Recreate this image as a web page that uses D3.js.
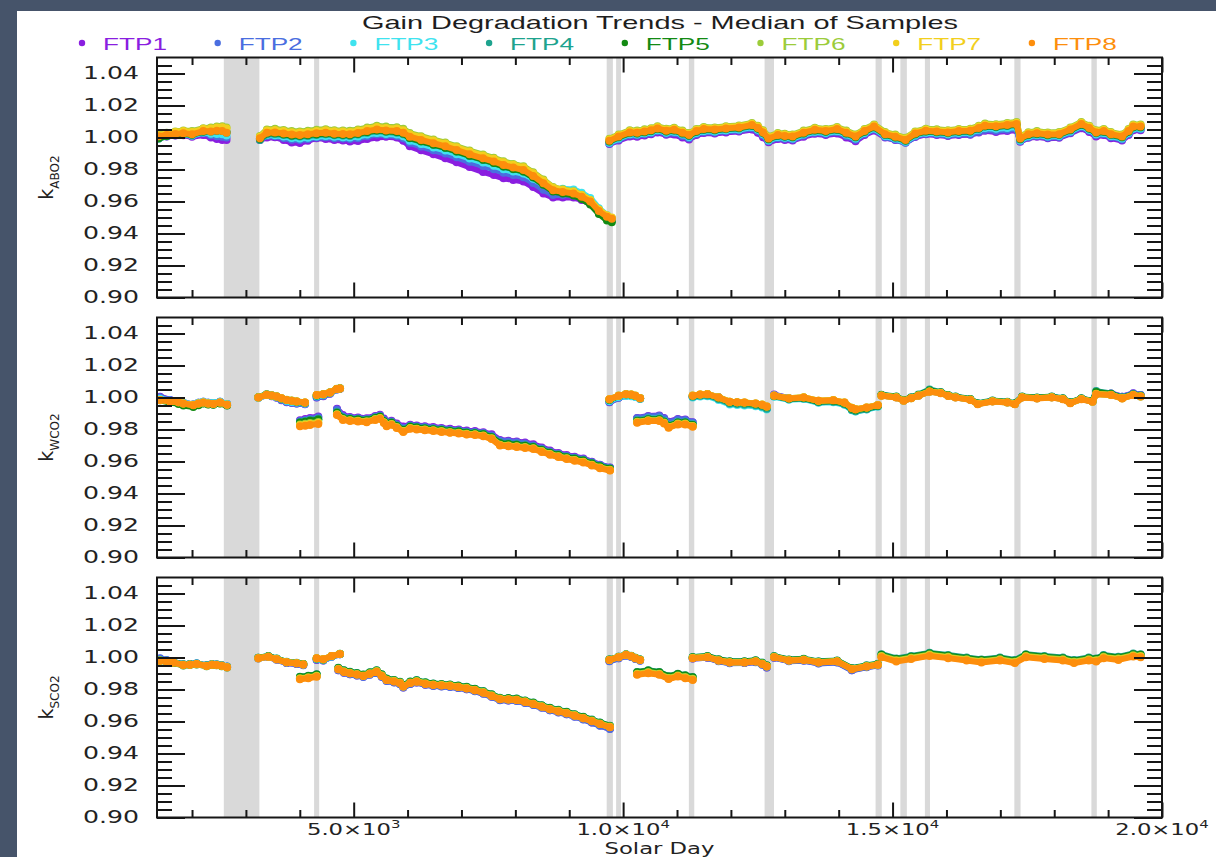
<!DOCTYPE html>
<html>
<head>
<meta charset="utf-8">
<script src="https://cdn.jsdelivr.net/npm/d3@7"></script>
<style>
  html, body { margin: 0; padding: 0; background: #46546a; }
  svg { display: block; }
</style>
</head>
<body>
<svg id="chart" width="1216" height="857"></svg>
<script>
// ---------------------------------------------------------------------------
// Data: median gain factor per footprint (FTP1..FTP8) vs solar day.
// Each panel's arrays are split into segments (one inner array per segment).
// ---------------------------------------------------------------------------
const ftpNames = ['FTP1', 'FTP2', 'FTP3', 'FTP4', 'FTP5', 'FTP6', 'FTP7', 'FTP8'];

// Shaded intervals (solar day start / end)
const gapStart = [2590, 4265, 9695, 9870, 11220, 12625, 14685, 15145, 15600, 17260, 18690];
const gapEnd   = [3250, 4360, 9810, 9960, 11320, 12800, 14800, 15265, 15695, 17375, 18790];

// Axis ticks and labels
const yMajor = [0.90, 0.92, 0.94, 0.96, 0.98, 1.00, 1.02, 1.04];
const yMinor = [0.905, 0.910, 0.915, 0.925, 0.930, 0.935, 0.945, 0.950, 0.955, 0.965, 0.970, 0.975,
                0.985, 0.990, 0.995, 1.005, 1.010, 1.015, 1.025, 1.030, 1.035, 1.045];
const xMajor = [5000, 10000, 15000, 20000];
const xMinor = [2000, 3000, 4000, 6000, 7000, 8000, 9000, 11000, 12000, 13000, 14000,
                16000, 17000, 18000, 19000];
const xLabelMantissa = ['5.0', '1.0', '1.5', '2.0'];
const xLabelExponent = ['3', '4', '4', '4'];
const panelSubscripts = ['ABO2', 'WCO2', 'SCO2'];

// ---- k_ABO2 -------------------------------------------------------------
const abo2Days = [
  [1380,1530,1690,1840,2000,2210,2350,2460,2560,2640],
  [3260,3390,3540,3700,3850,4000,4150,4310,4480,4640,4800,4930,5080,5250,5430,5600,5800,5920,6040,6250,
   6480,6700,6910,7150,7400,7600,7780,7960,8150,8330,8520,8700,8880,9080,9230,9390,9550,9700,9790],
  [9745,9917,10123,10260,10398,10520,10638,10800,10947,11100,11222,11360,11497,11700,11909,12150,12390,12500,12596,12699,
   12871,13000,13146,13350,13558,13760,13970,14140,14313,14480,14657,14862,15050,15241,15420,15618,15820,16028,16230,16442,
   16600,16716,16920,17128,17301,17369,17520,17679,17880,18091,18300,18503,18650,18778,18920,19052,19258,19380,19466,19603]
];
const abo2Ftp1 = [
  [0.9998,1.0006,1.0012,1.0014,1.0005,1.0015,1.0000,0.9990,0.9985,0.9985],
  [0.9985,1.0000,1.0002,0.9985,0.9968,0.9966,0.9980,0.9996,0.9990,0.9984,0.9982,0.9975,0.9978,0.9990,1.0000,1.0004,1.0000,0.9980,0.9945,0.9920,
   0.9895,0.9870,0.9845,0.9815,0.9785,0.9765,0.9745,0.9735,0.9725,0.9690,0.9650,0.9625,0.9625,0.9625,0.9610,0.9585,0.9530,0.9500,0.9488],
  [0.9959,0.9981,1.0007,1.0005,1.0013,1.0020,1.0032,1.0017,1.0018,1.0000,0.9988,1.0015,1.0028,1.0025,1.0032,1.0037,1.0050,1.0030,1.0002,0.9970,
   0.9990,0.9985,0.9981,1.0005,1.0023,1.0015,1.0025,1.0000,0.9976,1.0015,1.0044,1.0000,0.9985,0.9968,1.0003,1.0020,1.0015,1.0010,1.0016,1.0017,
   1.0032,1.0042,1.0034,1.0040,1.0046,0.9974,0.9998,1.0004,0.9995,0.9998,1.0026,1.0058,1.0035,1.0007,1.0015,0.9996,0.9981,1.0015,1.0046,1.0046]
];
const abo2Ftp2 = [
  [0.9998,1.0008,1.0014,1.0018,1.0010,1.0028,1.0014,1.0008,1.0005,1.0000],
  [0.9988,1.0010,1.0008,0.9997,0.9986,0.9984,0.9990,1.0000,1.0002,0.9996,0.9994,0.9990,0.9996,1.0008,1.0018,1.0014,1.0010,0.9996,0.9967,0.9944,
   0.9920,0.9900,0.9876,0.9848,0.9822,0.9802,0.9780,0.9765,0.9752,0.9716,0.9674,0.9640,0.9640,0.9638,0.9620,0.9592,0.9534,0.9500,0.9488],
  [0.9962,0.9988,1.0014,1.0012,1.0020,1.0027,1.0039,1.0024,1.0028,1.0010,0.9995,1.0022,1.0035,1.0032,1.0039,1.0044,1.0058,1.0040,1.0012,0.9976,
   0.9997,0.9992,0.9988,1.0012,1.0030,1.0022,1.0033,1.0010,0.9986,1.0022,1.0051,1.0003,0.9987,0.9967,1.0007,1.0024,1.0020,1.0012,1.0020,1.0020,
   1.0036,1.0048,1.0042,1.0048,1.0054,0.9976,1.0002,1.0009,1.0000,1.0003,1.0032,1.0066,1.0042,1.0014,1.0022,1.0003,0.9988,1.0022,1.0051,1.0051]
];
const abo2Ftp3 = [
  [1.0000,1.0010,1.0016,1.0020,1.0012,1.0032,1.0024,1.0022,1.0020,1.0012],
  [0.9990,1.0015,1.0014,1.0006,0.9997,0.9994,0.9998,1.0006,1.0010,1.0004,1.0002,1.0000,1.0006,1.0018,1.0028,1.0022,1.0018,1.0008,0.9980,0.9960,
   0.9938,0.9919,0.9896,0.9869,0.9844,0.9824,0.9802,0.9787,0.9775,0.9742,0.9705,0.9672,0.9680,0.9675,0.9655,0.9622,0.9558,0.9515,0.9496],
  [0.9967,0.9994,1.0020,1.0018,1.0026,1.0033,1.0045,1.0030,1.0036,1.0018,1.0003,1.0028,1.0041,1.0038,1.0045,1.0050,1.0066,1.0048,1.0020,0.9982,
   1.0003,0.9998,0.9994,1.0018,1.0036,1.0028,1.0041,1.0018,0.9994,1.0028,1.0057,1.0009,0.9993,0.9973,1.0013,1.0030,1.0026,1.0020,1.0028,1.0030,
   1.0048,1.0060,1.0054,1.0060,1.0066,0.9982,1.0008,1.0015,1.0006,1.0009,1.0038,1.0072,1.0048,1.0020,1.0028,1.0009,0.9994,1.0028,1.0057,1.0057]
];
const abo2Ftp4 = [
  [0.9992,1.0008,1.0018,1.0022,1.0016,1.0036,1.0036,1.0040,1.0040,1.0030],
  [0.9985,1.0020,1.0022,1.0015,1.0008,1.0006,1.0010,1.0016,1.0020,1.0014,1.0012,1.0010,1.0018,1.0030,1.0040,1.0034,1.0030,1.0020,0.9995,0.9975,
   0.9954,0.9935,0.9912,0.9885,0.9860,0.9840,0.9818,0.9802,0.9787,0.9750,0.9705,0.9665,0.9660,0.9652,0.9630,0.9598,0.9535,0.9495,0.9480],
  [0.9973,1.0000,1.0026,1.0024,1.0032,1.0039,1.0051,1.0036,1.0042,1.0024,1.0009,1.0034,1.0047,1.0044,1.0051,1.0056,1.0072,1.0054,1.0026,0.9988,
   1.0009,1.0004,1.0000,1.0024,1.0042,1.0034,1.0047,1.0024,1.0000,1.0034,1.0063,1.0015,0.9999,0.9979,1.0019,1.0036,1.0032,1.0026,1.0034,1.0036,
   1.0054,1.0068,1.0064,1.0072,1.0078,0.9988,1.0014,1.0021,1.0012,1.0015,1.0044,1.0078,1.0054,1.0026,1.0034,1.0015,1.0000,1.0034,1.0063,1.0063]
];
const abo2Ftp5 = [
  [0.9995,1.0010,1.0018,1.0024,1.0018,1.0038,1.0040,1.0044,1.0044,1.0034],
  [0.9992,1.0026,1.0028,1.0020,1.0013,1.0011,1.0015,1.0021,1.0025,1.0019,1.0017,1.0015,1.0023,1.0035,1.0045,1.0039,1.0035,1.0025,0.9997,0.9976,
   0.9955,0.9936,0.9913,0.9886,0.9861,0.9841,0.9819,0.9803,0.9788,0.9751,0.9705,0.9662,0.9650,0.9638,0.9615,0.9582,0.9522,0.9482,0.9470],
  [0.9976,1.0003,1.0029,1.0027,1.0035,1.0042,1.0054,1.0039,1.0045,1.0027,1.0012,1.0037,1.0050,1.0047,1.0054,1.0059,1.0075,1.0057,1.0029,0.9991,
   1.0012,1.0007,1.0003,1.0027,1.0045,1.0037,1.0050,1.0027,1.0003,1.0037,1.0066,1.0018,1.0002,0.9982,1.0022,1.0039,1.0035,1.0029,1.0037,1.0039,
   1.0057,1.0071,1.0067,1.0075,1.0081,0.9991,1.0017,1.0024,1.0015,1.0018,1.0047,1.0081,1.0057,1.0029,1.0037,1.0018,1.0003,1.0037,1.0066,1.0066]
];
const abo2Ftp6 = [
  [1.0018,1.0030,1.0038,1.0044,1.0040,1.0058,1.0062,1.0068,1.0070,1.0062],
  [1.0010,1.0050,1.0054,1.0047,1.0040,1.0038,1.0042,1.0048,1.0052,1.0046,1.0044,1.0042,1.0050,1.0062,1.0074,1.0068,1.0064,1.0054,1.0028,1.0008,
   0.9987,0.9968,0.9945,0.9918,0.9893,0.9873,0.9851,0.9835,0.9820,0.9783,0.9737,0.9690,0.9676,0.9664,0.9642,0.9610,0.9550,0.9510,0.9495],
  [0.9992,1.0019,1.0045,1.0043,1.0051,1.0058,1.0070,1.0055,1.0061,1.0043,1.0028,1.0053,1.0066,1.0063,1.0070,1.0075,1.0091,1.0073,1.0045,1.0007,
   1.0028,1.0023,1.0019,1.0043,1.0061,1.0053,1.0066,1.0043,1.0019,1.0053,1.0082,1.0034,1.0018,0.9998,1.0038,1.0055,1.0051,1.0045,1.0053,1.0055,
   1.0073,1.0087,1.0083,1.0091,1.0097,1.0007,1.0033,1.0040,1.0031,1.0034,1.0063,1.0097,1.0073,1.0045,1.0053,1.0034,1.0019,1.0053,1.0082,1.0082]
];
const abo2Ftp7 = [
  [1.0014,1.0026,1.0034,1.0040,1.0034,1.0054,1.0056,1.0062,1.0064,1.0056],
  [1.0005,1.0044,1.0047,1.0040,1.0033,1.0031,1.0035,1.0041,1.0045,1.0039,1.0037,1.0035,1.0043,1.0055,1.0066,1.0060,1.0056,1.0046,1.0021,1.0002,
   0.9981,0.9962,0.9939,0.9912,0.9887,0.9867,0.9845,0.9829,0.9814,0.9777,0.9731,0.9686,0.9674,0.9662,0.9641,0.9610,0.9550,0.9514,0.9500],
  [0.9987,1.0014,1.0040,1.0038,1.0046,1.0053,1.0065,1.0050,1.0056,1.0038,1.0023,1.0048,1.0061,1.0058,1.0065,1.0070,1.0086,1.0068,1.0040,1.0002,
   1.0023,1.0018,1.0014,1.0038,1.0056,1.0048,1.0061,1.0038,1.0014,1.0048,1.0077,1.0029,1.0013,0.9993,1.0033,1.0050,1.0046,1.0040,1.0048,1.0050,
   1.0068,1.0082,1.0078,1.0086,1.0092,1.0002,1.0028,1.0035,1.0026,1.0029,1.0058,1.0092,1.0068,1.0040,1.0048,1.0029,1.0014,1.0048,1.0077,1.0077]
];
const abo2Ftp8 = [
  [1.0008,1.0016,1.0022,1.0026,1.0020,1.0040,1.0038,1.0042,1.0040,1.0030],
  [0.9995,1.0030,1.0032,1.0025,1.0018,1.0016,1.0020,1.0026,1.0030,1.0024,1.0022,1.0020,1.0028,1.0040,1.0050,1.0044,1.0040,1.0030,1.0005,0.9985,
   0.9964,0.9945,0.9922,0.9895,0.9870,0.9850,0.9828,0.9812,0.9797,0.9760,0.9714,0.9670,0.9660,0.9650,0.9630,0.9600,0.9540,0.9505,0.9492],
  [0.9979,1.0006,1.0032,1.0030,1.0038,1.0045,1.0057,1.0042,1.0048,1.0030,1.0015,1.0040,1.0053,1.0050,1.0057,1.0062,1.0078,1.0060,1.0032,0.9994,
   1.0015,1.0010,1.0006,1.0030,1.0048,1.0040,1.0053,1.0030,1.0006,1.0040,1.0069,1.0021,1.0005,0.9985,1.0025,1.0042,1.0038,1.0032,1.0040,1.0042,
   1.0060,1.0074,1.0070,1.0078,1.0084,0.9994,1.0020,1.0027,1.0018,1.0021,1.0050,1.0084,1.0060,1.0032,1.0040,1.0021,1.0006,1.0040,1.0069,1.0069]
];

// ---- k_WCO2 -------------------------------------------------------------
const wco2Days = [
  [1406,1591,1750,1839,2024,2120,2210,2300,2395,2519,2650],
  [3230,3386,3480,3571,3660,3757,3850,3942,4096],
  [4004,4100,4189,4343],
  [4313,4436,4560,4684,4746],
  [4690,4800,4931,5080,5241,5400,5488,5560,5612,5700,5798,5920,6050,6169,6320,6477,6630,6787,6950,7097,
   7250,7405,7560,7715,7870,8025,8180,8333,8490,8643,8800,8952,9100,9261,9420,9570,9756],
  [9745,9917,10054,10150,10226,10315],
  [10260,10466,10672,10760,10844,11016,11153,11291],
  [11291,11430,11565,11771,11978,12115,12252,12459,12580,12665],
  [12802,13077,13352,13626,13901,14107,14245,14313,14519,14726],
  [14794,15069,15206,15344,15481,15687,15893,16031,16168,16443,16580,16855,17130,17268,17405,17680,17954,18161,18298,18504,
   18710,18779,19054,19260,19466,19603]
];
const wco2Ftp1 = [
  [1.0005,0.9985,0.9976,0.9967,0.9957,0.9967,0.9973,0.9967,0.9965,0.9973,0.9960],
  [0.9998,1.0015,1.0008,0.9998,0.9983,0.9970,0.9965,0.9962,0.9958],
  [0.9858,0.9865,0.9872,0.9882],
  [1.0000,1.0008,1.0024,1.0050,1.0055],
  [0.9930,0.9890,0.9878,0.9875,0.9871,0.9885,0.9892,0.9868,0.9850,0.9855,0.9838,0.9818,0.9830,0.9825,0.9820,0.9815,0.9810,0.9804,0.9800,0.9793,
   0.9790,0.9783,0.9770,0.9735,0.9730,0.9725,0.9718,0.9708,0.9688,0.9668,0.9653,0.9640,0.9630,0.9619,0.9598,0.9580,0.9563],
  [0.9970,0.9998,1.0012,1.0012,1.0006,0.9992],
  [0.9872,0.9884,0.9888,0.9872,0.9848,0.9866,0.9862,0.9845],
  [1.0003,1.0012,1.0020,1.0002,0.9970,0.9965,0.9963,0.9955,0.9945,0.9933],
  [1.0018,0.9996,0.9998,0.9972,0.9978,0.9962,0.9930,0.9922,0.9935,0.9952],
  [1.0014,1.0003,0.9982,0.9998,1.0014,1.0039,1.0030,1.0013,1.0003,0.9988,0.9961,0.9978,0.9971,0.9961,1.0003,0.9997,1.0003,0.9992,0.9967,0.9992,
   0.9976,1.0028,1.0025,1.0005,1.0026,1.0016]
];
const wco2Ftp2 = [
  [1.0002,0.9984,0.9975,0.9967,0.9957,0.9967,0.9973,0.9967,0.9965,0.9973,0.9960],
  [0.9998,1.0015,1.0009,1.0000,0.9985,0.9972,0.9967,0.9963,0.9959],
  [0.9853,0.9860,0.9866,0.9876],
  [1.0002,1.0010,1.0025,1.0050,1.0055],
  [0.9925,0.9883,0.9873,0.9870,0.9866,0.9880,0.9887,0.9862,0.9843,0.9850,0.9832,0.9810,0.9825,0.9820,0.9815,0.9810,0.9805,0.9799,0.9795,0.9788,
   0.9785,0.9778,0.9763,0.9730,0.9725,0.9720,0.9713,0.9700,0.9681,0.9662,0.9648,0.9635,0.9625,0.9614,0.9595,0.9578,0.9561],
  [0.9972,0.9999,1.0013,1.0013,1.0007,0.9993],
  [0.9870,0.9881,0.9884,0.9868,0.9843,0.9862,0.9860,0.9843],
  [1.0004,1.0013,1.0020,1.0001,0.9969,0.9964,0.9962,0.9954,0.9944,0.9932],
  [1.0016,0.9995,0.9997,0.9972,0.9977,0.9960,0.9928,0.9920,0.9933,0.9950],
  [1.0013,1.0002,0.9981,0.9997,1.0013,1.0038,1.0029,1.0012,1.0002,0.9987,0.9960,0.9977,0.9970,0.9960,1.0002,0.9996,1.0002,0.9991,0.9966,0.9991,
   0.9975,1.0026,1.0024,1.0004,1.0025,1.0015]
];
const wco2Ftp3 = [
  [0.9992,0.9980,0.9975,0.9967,0.9957,0.9967,0.9973,0.9967,0.9965,0.9973,0.9960],
  [0.9997,1.0015,1.0010,1.0002,0.9990,0.9978,0.9972,0.9968,0.9962],
  [0.9842,0.9848,0.9853,0.9862],
  [1.0008,1.0015,1.0028,1.0051,1.0056],
  [0.9905,0.9870,0.9863,0.9860,0.9856,0.9870,0.9877,0.9850,0.9831,0.9840,0.9820,0.9795,0.9815,0.9810,0.9805,0.9800,0.9795,0.9789,0.9785,0.9778,
   0.9775,0.9768,0.9750,0.9712,0.9707,0.9702,0.9697,0.9689,0.9670,0.9652,0.9638,0.9625,0.9615,0.9604,0.9585,0.9568,0.9552],
  [0.9978,1.0003,1.0010,1.0008,1.0003,0.9990],
  [0.9857,0.9868,0.9869,0.9853,0.9827,0.9847,0.9846,0.9831],
  [1.0000,1.0006,1.0008,0.9985,0.9957,0.9953,0.9950,0.9945,0.9937,0.9925],
  [1.0005,0.9986,0.9990,0.9967,0.9970,0.9955,0.9920,0.9912,0.9925,0.9942],
  [1.0012,1.0001,0.9980,0.9996,1.0012,1.0037,1.0028,1.0011,1.0001,0.9986,0.9959,0.9976,0.9969,0.9959,1.0001,0.9995,1.0001,0.9990,0.9965,0.9990,
   0.9974,1.0022,1.0016,0.9995,1.0016,1.0007]
];
const wco2Ftp4 = [
  [0.9985,0.9970,0.9964,0.9956,0.9946,0.9958,0.9964,0.9958,0.9956,0.9964,0.9951],
  [1.0002,1.0020,1.0014,1.0006,0.9994,0.9983,0.9978,0.9973,0.9966],
  [0.9846,0.9852,0.9858,0.9866],
  [1.0012,1.0019,1.0031,1.0053,1.0058],
  [0.9910,0.9875,0.9868,0.9865,0.9861,0.9875,0.9882,0.9855,0.9836,0.9845,0.9825,0.9800,0.9820,0.9815,0.9810,0.9805,0.9800,0.9794,0.9790,0.9783,
   0.9780,0.9773,0.9755,0.9718,0.9713,0.9708,0.9702,0.9694,0.9675,0.9657,0.9643,0.9630,0.9620,0.9609,0.9590,0.9573,0.9557],
  [0.9985,1.0009,1.0019,1.0016,1.0009,0.9994],
  [0.9858,0.9869,0.9869,0.9853,0.9827,0.9847,0.9847,0.9832],
  [1.0005,1.0011,1.0013,0.9991,0.9962,0.9959,0.9957,0.9951,0.9943,0.9930],
  [1.0008,0.9989,0.9993,0.9970,0.9974,0.9958,0.9922,0.9914,0.9927,0.9945],
  [1.0017,1.0006,0.9985,1.0001,1.0019,1.0050,1.0034,1.0016,1.0006,0.9991,0.9964,0.9981,0.9974,0.9964,1.0006,1.0000,1.0006,0.9995,0.9970,0.9995,
   0.9979,1.0040,1.0025,1.0000,1.0021,1.0012]
];
const wco2Ftp5 = [
  [0.9983,0.9968,0.9960,0.9950,0.9940,0.9952,0.9962,0.9956,0.9955,0.9963,0.9950],
  [1.0002,1.0019,1.0013,1.0006,0.9994,0.9984,0.9979,0.9974,0.9967],
  [0.9843,0.9849,0.9854,0.9862],
  [1.0013,1.0020,1.0031,1.0053,1.0057],
  [0.9905,0.9872,0.9865,0.9862,0.9858,0.9872,0.9879,0.9852,0.9833,0.9842,0.9822,0.9797,0.9817,0.9812,0.9807,0.9802,0.9797,0.9791,0.9787,0.9780,
   0.9777,0.9770,0.9752,0.9714,0.9709,0.9704,0.9699,0.9690,0.9672,0.9654,0.9640,0.9627,0.9617,0.9606,0.9587,0.9570,0.9555],
  [0.9986,1.0010,1.0020,1.0017,1.0010,0.9995],
  [0.9853,0.9864,0.9864,0.9849,0.9822,0.9843,0.9843,0.9828],
  [1.0010,1.0017,1.0020,0.9999,0.9971,0.9968,0.9966,0.9960,0.9952,0.9940],
  [1.0010,0.9992,0.9997,0.9975,0.9979,0.9964,0.9930,0.9922,0.9933,0.9948],
  [1.0015,1.0004,0.9983,0.9999,1.0016,1.0044,1.0031,1.0014,1.0004,0.9989,0.9962,0.9979,0.9972,0.9962,1.0004,0.9998,1.0004,0.9993,0.9968,0.9993,
   0.9977,1.0034,1.0022,0.9998,1.0019,1.0010]
];
const wco2Ftp6 = [
  [0.9985,0.9975,0.9970,0.9962,0.9954,0.9963,0.9969,0.9963,0.9961,0.9969,0.9956],
  [1.0001,1.0018,1.0013,1.0007,0.9996,0.9986,0.9981,0.9976,0.9969],
  [0.9832,0.9836,0.9840,0.9847],
  [1.0015,1.0022,1.0033,1.0054,1.0058],
  [0.9896,0.9865,0.9858,0.9855,0.9851,0.9865,0.9872,0.9845,0.9826,0.9835,0.9815,0.9790,0.9810,0.9805,0.9800,0.9795,0.9790,0.9784,0.9780,0.9773,
   0.9770,0.9763,0.9745,0.9705,0.9700,0.9695,0.9690,0.9683,0.9665,0.9647,0.9633,0.9620,0.9610,0.9599,0.9580,0.9563,0.9548],
  [0.9989,1.0012,1.0022,1.0019,1.0012,0.9997],
  [0.9848,0.9858,0.9858,0.9843,0.9816,0.9837,0.9837,0.9822],
  [1.0012,1.0019,1.0022,1.0001,0.9974,0.9971,0.9969,0.9963,0.9956,0.9944],
  [1.0012,0.9995,1.0001,0.9980,0.9984,0.9969,0.9936,0.9927,0.9938,0.9953],
  [1.0013,1.0002,0.9981,0.9997,1.0013,1.0038,1.0029,1.0012,1.0002,0.9987,0.9960,0.9977,0.9970,0.9960,1.0002,0.9996,1.0002,0.9991,0.9966,0.9991,
   0.9975,1.0023,1.0017,0.9996,1.0017,1.0008]
];
const wco2Ftp7 = [
  [0.9985,0.9975,0.9970,0.9962,0.9953,0.9962,0.9968,0.9962,0.9960,0.9968,0.9955],
  [1.0000,1.0017,1.0012,1.0006,0.9995,0.9985,0.9980,0.9975,0.9968],
  [0.9826,0.9830,0.9834,0.9841],
  [1.0015,1.0021,1.0032,1.0053,1.0057],
  [0.9893,0.9863,0.9856,0.9853,0.9849,0.9863,0.9870,0.9843,0.9824,0.9833,0.9813,0.9788,0.9808,0.9803,0.9798,0.9793,0.9788,0.9782,0.9778,0.9771,
   0.9768,0.9761,0.9743,0.9703,0.9698,0.9693,0.9688,0.9681,0.9663,0.9645,0.9631,0.9618,0.9608,0.9597,0.9578,0.9561,0.9546],
  [0.9989,1.0011,1.0021,1.0018,1.0011,0.9996],
  [0.9845,0.9856,0.9856,0.9841,0.9814,0.9835,0.9835,0.9820],
  [1.0012,1.0019,1.0022,1.0001,0.9974,0.9971,0.9969,0.9963,0.9956,0.9944],
  [1.0012,0.9995,1.0001,0.9980,0.9984,0.9969,0.9936,0.9927,0.9938,0.9953],
  [1.0012,1.0001,0.9980,0.9996,1.0012,1.0037,1.0028,1.0011,1.0001,0.9986,0.9959,0.9976,0.9969,0.9959,1.0001,0.9995,1.0001,0.9990,0.9965,0.9990,
   0.9974,1.0022,1.0016,0.9995,1.0016,1.0007]
];
const wco2Ftp8 = [
  [0.9985,0.9975,0.9970,0.9962,0.9952,0.9962,0.9968,0.9962,0.9960,0.9968,0.9955],
  [1.0000,1.0017,1.0012,1.0006,0.9995,0.9985,0.9980,0.9975,0.9968],
  [0.9820,0.9824,0.9828,0.9835],
  [1.0015,1.0021,1.0032,1.0053,1.0057],
  [0.9890,0.9860,0.9853,0.9850,0.9846,0.9860,0.9867,0.9840,0.9821,0.9830,0.9810,0.9785,0.9805,0.9800,0.9795,0.9790,0.9785,0.9779,0.9775,0.9768,
   0.9765,0.9758,0.9740,0.9700,0.9695,0.9690,0.9685,0.9678,0.9660,0.9642,0.9628,0.9615,0.9605,0.9594,0.9575,0.9558,0.9543],
  [0.9989,1.0011,1.0021,1.0018,1.0011,0.9996],
  [0.9842,0.9853,0.9853,0.9838,0.9811,0.9832,0.9832,0.9817],
  [1.0011,1.0018,1.0021,1.0000,0.9973,0.9970,0.9968,0.9962,0.9955,0.9943],
  [1.0011,0.9994,1.0000,0.9979,0.9983,0.9968,0.9935,0.9926,0.9937,0.9952],
  [1.0011,1.0000,0.9979,0.9995,1.0011,1.0036,1.0027,1.0010,1.0000,0.9985,0.9958,0.9975,0.9968,0.9958,1.0000,0.9994,1.0000,0.9989,0.9964,0.9989,
   0.9973,1.0021,1.0015,0.9994,1.0015,1.0006]
];

// ---- k_SCO2 -------------------------------------------------------------
const sco2Days = [
  [1406,1530,1653,1839,1960,2086,2271,2370,2457,2550,2650],
  [3230,3416,3570,3756,3941,4065],
  [4003,4158,4313],
  [4313,4436,4591,4745],
  [4715,4820,4931,5060,5178,5300,5426,5520,5611,5750,5859,5921,6050,6168,6330,6477,6630,6787,6940,7096,
   7250,7405,7560,7714,7870,8024,8180,8333,8490,8642,8800,8951,9100,9261,9420,9570,9755],
  [9745,9917,10054,10150,10226,10315],
  [10260,10466,10672,10844,11016,11153,11291],
  [11291,11565,11771,11978,12252,12459,12580,12665],
  [12802,13077,13352,13626,13970,14245,14519,14726],
  [14794,15069,15344,15687,16031,16374,16649,16993,17268,17474,17817,18161,18367,18641,18779,18916,19191,19466,19603]
];
const sco2Ftp1 = [
  [0.9992,0.9982,0.9972,0.9956,0.9958,0.9962,0.9950,0.9958,0.9956,0.9951,0.9942],
  [0.9995,1.0004,0.9987,0.9966,0.9960,0.9953],
  [0.9872,0.9878,0.9888],
  [0.9985,0.9982,1.0005,1.0020],
  [0.9921,0.9905,0.9896,0.9888,0.9879,0.9893,0.9906,0.9880,0.9854,0.9845,0.9834,0.9813,0.9835,0.9844,0.9830,0.9823,0.9820,0.9817,0.9810,0.9802,
   0.9790,0.9775,0.9755,0.9734,0.9732,0.9729,0.9717,0.9704,0.9687,0.9671,0.9658,0.9646,0.9631,0.9614,0.9594,0.9575,0.9554],
  [0.9978,0.9996,1.0012,1.0004,0.9992,0.9981],
  [0.9898,0.9908,0.9898,0.9871,0.9887,0.9877,0.9866],
  [0.9994,0.9999,0.9978,0.9965,0.9966,0.9972,0.9956,0.9938],
  [0.9999,0.9978,0.9981,0.9964,0.9970,0.9921,0.9940,0.9951],
  [1.0008,0.9981,0.9996,1.0016,1.0002,0.9987,0.9975,0.9987,0.9971,1.0008,0.9996,0.9987,0.9971,0.9987,0.9981,1.0002,0.9991,1.0012,1.0008]
];
const sco2Ftp2 = [
  [0.9995,0.9984,0.9973,0.9957,0.9959,0.9963,0.9951,0.9959,0.9957,0.9952,0.9943],
  [0.9994,1.0003,0.9986,0.9965,0.9959,0.9952],
  [0.9871,0.9877,0.9887],
  [0.9986,0.9982,1.0005,1.0020],
  [0.9920,0.9904,0.9895,0.9887,0.9878,0.9892,0.9905,0.9879,0.9853,0.9844,0.9833,0.9812,0.9834,0.9843,0.9829,0.9822,0.9819,0.9816,0.9809,0.9801,
   0.9789,0.9774,0.9754,0.9733,0.9731,0.9728,0.9716,0.9703,0.9686,0.9670,0.9657,0.9645,0.9630,0.9613,0.9593,0.9574,0.9553],
  [0.9976,0.9995,1.0011,1.0003,0.9991,0.9980],
  [0.9897,0.9907,0.9897,0.9870,0.9886,0.9876,0.9865],
  [0.9993,0.9998,0.9977,0.9964,0.9965,0.9971,0.9955,0.9937],
  [0.9998,0.9977,0.9980,0.9963,0.9969,0.9920,0.9939,0.9950],
  [1.0011,0.9984,0.9999,1.0019,1.0005,0.9990,0.9978,0.9990,0.9974,1.0011,0.9999,0.9990,0.9974,0.9990,0.9984,1.0005,0.9994,1.0015,1.0011]
];
const sco2Ftp3 = [
  [0.9985,0.9979,0.9971,0.9956,0.9958,0.9962,0.9950,0.9958,0.9956,0.9951,0.9942],
  [0.9997,1.0008,0.9991,0.9971,0.9965,0.9958],
  [0.9874,0.9880,0.9890],
  [0.9990,0.9985,1.0006,1.0021],
  [0.9929,0.9913,0.9904,0.9896,0.9887,0.9901,0.9914,0.9888,0.9862,0.9853,0.9842,0.9821,0.9843,0.9852,0.9838,0.9831,0.9828,0.9825,0.9818,0.9810,
   0.9798,0.9783,0.9763,0.9742,0.9740,0.9737,0.9725,0.9712,0.9695,0.9679,0.9666,0.9654,0.9639,0.9623,0.9605,0.9587,0.9567],
  [0.9986,1.0003,1.0018,1.0009,0.9997,0.9986],
  [0.9900,0.9910,0.9900,0.9873,0.9889,0.9879,0.9868],
  [0.9998,1.0004,0.9983,0.9970,0.9970,0.9976,0.9961,0.9945],
  [1.0004,0.9983,0.9987,0.9971,0.9977,0.9929,0.9946,0.9956],
  [1.0014,0.9987,1.0002,1.0022,1.0008,0.9993,0.9981,0.9993,0.9977,1.0014,1.0002,0.9993,0.9977,0.9993,0.9987,1.0008,0.9997,1.0018,1.0014]
];
const sco2Ftp4 = [
  [0.9984,0.9979,0.9972,0.9958,0.9960,0.9963,0.9951,0.9958,0.9956,0.9951,0.9942],
  [0.9999,1.0010,0.9993,0.9973,0.9967,0.9960],
  [0.9880,0.9886,0.9896],
  [0.9993,0.9988,1.0009,1.0023],
  [0.9936,0.9920,0.9911,0.9903,0.9894,0.9908,0.9921,0.9895,0.9869,0.9860,0.9849,0.9828,0.9850,0.9859,0.9845,0.9838,0.9835,0.9832,0.9825,0.9817,
   0.9805,0.9790,0.9770,0.9749,0.9747,0.9744,0.9732,0.9719,0.9702,0.9686,0.9673,0.9661,0.9646,0.9630,0.9612,0.9594,0.9574],
  [0.9988,1.0005,1.0020,1.0011,0.9999,0.9988],
  [0.9910,0.9920,0.9910,0.9883,0.9899,0.9889,0.9878],
  [1.0003,1.0010,0.9989,0.9977,0.9977,0.9983,0.9968,0.9952],
  [1.0009,0.9988,0.9992,0.9976,0.9982,0.9934,0.9951,0.9961],
  [1.0021,0.9994,1.0009,1.0029,1.0015,1.0000,0.9988,1.0000,0.9984,1.0021,1.0009,1.0000,0.9984,1.0000,0.9994,1.0015,1.0004,1.0025,1.0021]
];
const sco2Ftp5 = [
  [0.9980,0.9974,0.9966,0.9950,0.9953,0.9957,0.9945,0.9953,0.9951,0.9946,0.9937],
  [0.9998,1.0008,0.9992,0.9972,0.9966,0.9959],
  [0.9878,0.9884,0.9894],
  [0.9994,0.9988,1.0009,1.0022],
  [0.9934,0.9918,0.9909,0.9901,0.9892,0.9906,0.9919,0.9893,0.9867,0.9858,0.9847,0.9826,0.9848,0.9857,0.9843,0.9836,0.9833,0.9830,0.9823,0.9815,
   0.9803,0.9788,0.9768,0.9747,0.9745,0.9742,0.9730,0.9717,0.9700,0.9684,0.9671,0.9659,0.9644,0.9628,0.9610,0.9592,0.9572],
  [0.9987,1.0004,1.0019,1.0010,0.9998,0.9987],
  [0.9908,0.9918,0.9908,0.9881,0.9897,0.9887,0.9876],
  [1.0001,1.0008,0.9987,0.9975,0.9975,0.9981,0.9966,0.9950],
  [1.0007,0.9986,0.9990,0.9974,0.9980,0.9932,0.9949,0.9959],
  [1.0017,0.9990,1.0005,1.0025,1.0011,0.9996,0.9984,0.9996,0.9980,1.0017,1.0005,0.9996,0.9980,0.9996,0.9990,1.0011,1.0000,1.0021,1.0017]
];
const sco2Ftp6 = [
  [0.9981,0.9976,0.9969,0.9954,0.9956,0.9960,0.9948,0.9956,0.9954,0.9949,0.9940],
  [0.9996,1.0006,0.9990,0.9971,0.9965,0.9958],
  [0.9870,0.9876,0.9886],
  [0.9995,0.9989,1.0010,1.0023],
  [0.9930,0.9914,0.9905,0.9897,0.9888,0.9902,0.9915,0.9889,0.9863,0.9854,0.9843,0.9822,0.9844,0.9853,0.9839,0.9832,0.9829,0.9826,0.9819,0.9811,
   0.9799,0.9784,0.9764,0.9743,0.9741,0.9738,0.9726,0.9713,0.9696,0.9680,0.9667,0.9655,0.9640,0.9624,0.9606,0.9588,0.9568],
  [0.9986,1.0003,1.0018,1.0009,0.9997,0.9986],
  [0.9899,0.9909,0.9899,0.9872,0.9888,0.9878,0.9867],
  [0.9998,1.0004,0.9983,0.9971,0.9971,0.9977,0.9962,0.9946],
  [1.0004,0.9983,0.9987,0.9971,0.9977,0.9929,0.9946,0.9956],
  [1.0010,0.9983,0.9998,1.0018,1.0004,0.9989,0.9977,0.9989,0.9973,1.0010,0.9998,0.9989,0.9973,0.9989,0.9983,1.0004,0.9993,1.0014,1.0010]
];
const sco2Ftp7 = [
  [0.9980,0.9975,0.9968,0.9953,0.9955,0.9959,0.9947,0.9955,0.9953,0.9948,0.9939],
  [0.9995,1.0005,0.9989,0.9970,0.9964,0.9957],
  [0.9867,0.9873,0.9883],
  [0.9995,0.9989,1.0009,1.0022],
  [0.9927,0.9911,0.9902,0.9894,0.9885,0.9899,0.9912,0.9886,0.9860,0.9851,0.9840,0.9819,0.9841,0.9850,0.9836,0.9829,0.9826,0.9823,0.9816,0.9808,
   0.9796,0.9781,0.9761,0.9740,0.9738,0.9735,0.9723,0.9710,0.9693,0.9677,0.9664,0.9652,0.9637,0.9621,0.9603,0.9585,0.9565],
  [0.9985,1.0002,1.0017,1.0008,0.9996,0.9985],
  [0.9895,0.9905,0.9895,0.9868,0.9884,0.9874,0.9863],
  [0.9997,1.0003,0.9982,0.9970,0.9970,0.9976,0.9961,0.9945],
  [1.0003,0.9982,0.9986,0.9970,0.9976,0.9928,0.9945,0.9955],
  [1.0006,0.9979,0.9994,1.0014,1.0000,0.9985,0.9973,0.9985,0.9969,1.0006,0.9994,0.9985,0.9969,0.9985,0.9979,1.0000,0.9989,1.0010,1.0006]
];
const sco2Ftp8 = [
  [0.9980,0.9975,0.9968,0.9953,0.9955,0.9959,0.9947,0.9955,0.9953,0.9948,0.9939],
  [0.9995,1.0005,0.9989,0.9970,0.9964,0.9957],
  [0.9864,0.9870,0.9880],
  [0.9995,0.9989,1.0009,1.0022],
  [0.9926,0.9910,0.9901,0.9893,0.9884,0.9898,0.9911,0.9885,0.9859,0.9850,0.9839,0.9818,0.9840,0.9849,0.9835,0.9828,0.9825,0.9822,0.9815,0.9807,
   0.9795,0.9780,0.9760,0.9739,0.9737,0.9734,0.9722,0.9709,0.9692,0.9676,0.9663,0.9651,0.9636,0.9620,0.9602,0.9584,0.9564],
  [0.9985,1.0002,1.0017,1.0008,0.9996,0.9985],
  [0.9892,0.9902,0.9892,0.9865,0.9881,0.9871,0.9860],
  [0.9996,1.0002,0.9981,0.9969,0.9969,0.9975,0.9960,0.9944],
  [1.0002,0.9981,0.9985,0.9969,0.9975,0.9927,0.9944,0.9954],
  [1.0002,0.9975,0.9990,1.0010,0.9996,0.9981,0.9969,0.9981,0.9965,1.0002,0.9990,0.9981,0.9965,0.9981,0.9975,0.9996,0.9985,1.0006,1.0002]
];

// ---------------------------------------------------------------------------
// Layout and styling
// ---------------------------------------------------------------------------
const FTP_COLORS = ['#8a1ee0', '#4a6ee0', '#3fe3ef', '#1ea38e', '#138a13', '#9ccc3a', '#f2cf1d', '#fd8e0c'];
const PLOT_L = 157, PLOT_R = 1162;
const PANEL_TOPS = [57.5, 317.5, 577.5];
const PANEL_H = 240;
const X_DOMAIN = [1350, 20000];
const Y_DOMAIN = [0.90, 1.05];
const INK = '#161616';
const LABEL_FONT = 'DejaVu Sans';
const TITLE_FONT = 'Liberation Sans';
const TRACE_WIDTH = 6;
const DOT_RADIUS = 4;

const panels = [
  { sub: panelSubscripts[0], days: abo2Days,
    series: [abo2Ftp1, abo2Ftp2, abo2Ftp3, abo2Ftp4, abo2Ftp5, abo2Ftp6, abo2Ftp7, abo2Ftp8] },
  { sub: panelSubscripts[1], days: wco2Days,
    series: [wco2Ftp1, wco2Ftp2, wco2Ftp3, wco2Ftp4, wco2Ftp5, wco2Ftp6, wco2Ftp7, wco2Ftp8] },
  { sub: panelSubscripts[2], days: sco2Days,
    series: [sco2Ftp1, sco2Ftp2, sco2Ftp3, sco2Ftp4, sco2Ftp5, sco2Ftp6, sco2Ftp7, sco2Ftp8] }
];

const svg = d3.select('#chart');

// white sheet on the slate backdrop
svg.append('rect').attr('x', 17).attr('y', 11).attr('width', 1216 - 17).attr('height', 857 - 11)
  .attr('fill', '#ffffff');

// title
svg.append('text')
  .attr('x', 660).attr('y', 29)
  .attr('text-anchor', 'middle')
  .attr('font-family', TITLE_FONT).attr('font-size', 19).attr('fill', '#1e1e1e')
  .attr('textLength', 596).attr('lengthAdjust', 'spacingAndGlyphs')
  .text('Gain Degradation Trends - Median of Samples');

// legend
const legend = svg.append('g');
ftpNames.forEach((name, i) => {
  const lx = 82 + i * 135.7;
  legend.append('circle').attr('cx', lx).attr('cy', 43).attr('r', 3.2).attr('fill', FTP_COLORS[i]);
  legend.append('text')
    .attr('x', lx + 21).attr('y', 49.5)
    .attr('font-family', TITLE_FONT).attr('font-size', 17).attr('fill', FTP_COLORS[i])
    .attr('textLength', 64).attr('lengthAdjust', 'spacingAndGlyphs')
    .text(name);
});

const x = d3.scaleLinear().domain(X_DOMAIN).range([PLOT_L, PLOT_R]);

const styleTicks = g => {
  g.select('.domain').remove();
  g.selectAll('.tick line').attr('stroke', INK).attr('stroke-width', 2);
};

panels.forEach((p, pi) => {
  const top = PANEL_TOPS[pi];
  const bottom = top + PANEL_H;
  const y = d3.scaleLinear().domain(Y_DOMAIN).range([bottom, top]);

  const clipId = 'plot-clip-' + pi;
  svg.append('clipPath').attr('id', clipId)
    .append('rect').attr('x', PLOT_L).attr('y', top)
    .attr('width', PLOT_R - PLOT_L).attr('height', PANEL_H);

  const plot = svg.append('g').attr('clip-path', `url(#${clipId})`);

  // shaded intervals
  plot.selectAll('rect.gap')
    .data(d3.zip(gapStart, gapEnd))
    .join('rect')
    .attr('class', 'gap')
    .attr('x', d => x(d[0]))
    .attr('width', d => x(d[1]) - x(d[0]))
    .attr('y', top).attr('height', PANEL_H)
    .attr('fill', '#d9d9d9');

  // footprint traces (line + sample dots), FTP1 first so FTP8 ends up on top
  const line = d3.line().x(d => x(d[0])).y(d => y(d[1]));
  p.series.forEach((ser, si) => {
    const layer = plot.append('g');
    p.days.forEach((segDays, k) => {
      const pts = d3.zip(segDays, ser[k]);
      layer.append('path')
        .datum(pts)
        .attr('d', line)
        .attr('fill', 'none')
        .attr('stroke', FTP_COLORS[si])
        .attr('stroke-width', TRACE_WIDTH)
        .attr('stroke-linecap', 'round')
        .attr('stroke-linejoin', 'round');
      layer.selectAll(null)
        .data(pts)
        .join('circle')
        .attr('cx', d => x(d[0]))
        .attr('cy', d => y(d[1]))
        .attr('r', DOT_RADIUS)
        .attr('fill', FTP_COLORS[si]);
    });
  });

  // left axis with labels
  svg.append('g').attr('transform', `translate(${PLOT_L},0)`)
    .call(d3.axisLeft(y).tickValues(yMajor).tickSize(-28).tickPadding(18).tickFormat(d3.format('.2f')))
    .call(styleTicks)
    .call(g => g.selectAll('.tick text')
      .attr('font-family', LABEL_FONT).attr('font-size', 17).attr('fill', '#222')
      .attr('textLength', 56).attr('lengthAdjust', 'spacingAndGlyphs'));
  svg.append('g').attr('transform', `translate(${PLOT_L},0)`)
    .call(d3.axisLeft(y).tickValues(yMinor).tickSize(-15).tickFormat(''))
    .call(styleTicks);

  // right axis (ticks only)
  svg.append('g').attr('transform', `translate(${PLOT_R},0)`)
    .call(d3.axisRight(y).tickValues(yMajor).tickSize(-28).tickFormat(''))
    .call(styleTicks);
  svg.append('g').attr('transform', `translate(${PLOT_R},0)`)
    .call(d3.axisRight(y).tickValues(yMinor).tickSize(-15).tickFormat(''))
    .call(styleTicks);

  // top and bottom axes (ticks only)
  svg.append('g').attr('transform', `translate(0,${top})`)
    .call(d3.axisTop(x).tickValues(xMajor).tickSize(-15).tickFormat(''))
    .call(styleTicks);
  svg.append('g').attr('transform', `translate(0,${top})`)
    .call(d3.axisTop(x).tickValues(xMinor).tickSize(-7.5).tickFormat(''))
    .call(styleTicks);
  svg.append('g').attr('transform', `translate(0,${bottom})`)
    .call(d3.axisBottom(x).tickValues(xMajor).tickSize(-15).tickFormat(''))
    .call(styleTicks);
  svg.append('g').attr('transform', `translate(0,${bottom})`)
    .call(d3.axisBottom(x).tickValues(xMinor).tickSize(-7.5).tickFormat(''))
    .call(styleTicks);

  // frame
  svg.append('rect')
    .attr('x', PLOT_L).attr('y', top)
    .attr('width', PLOT_R - PLOT_L).attr('height', PANEL_H)
    .attr('fill', 'none').attr('stroke', INK).attr('stroke-width', 2);

  // y-axis title: k with subscript
  const yt = svg.append('text')
    .attr('transform', `translate(53,${top + PANEL_H / 2}) rotate(-90)`)
    .attr('text-anchor', 'middle')
    .attr('font-family', LABEL_FONT).attr('font-size', 19).attr('fill', '#222');
  yt.append('tspan').text('k');
  yt.append('tspan').attr('font-size', 12).attr('dy', 6).text(p.sub);

  // x tick labels on the last panel only
  if (pi === panels.length - 1) {
    xMajor.forEach((v, i) => {
      const t = svg.append('text')
        .attr('transform', `translate(${x(v)},835) scale(1.42,1)`)
        .attr('text-anchor', 'middle')
        .attr('font-family', LABEL_FONT).attr('font-size', 16).attr('fill', '#222');
      t.append('tspan').text(xLabelMantissa[i] + '×10');
      t.append('tspan').attr('font-size', 10.5).attr('dy', -7.5).text(xLabelExponent[i]);
    });
    svg.append('text')
      .attr('x', (PLOT_L + PLOT_R) / 2).attr('y', 854)
      .attr('text-anchor', 'middle')
      .attr('font-family', LABEL_FONT).attr('font-size', 15.5).attr('fill', '#222')
      .attr('textLength', 110).attr('lengthAdjust', 'spacingAndGlyphs')
      .text('Solar Day');
  }
});
</script>
</body>
</html>
